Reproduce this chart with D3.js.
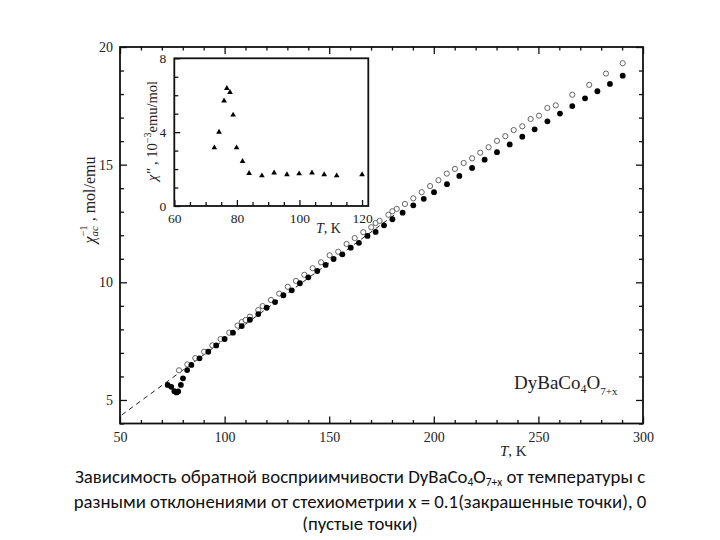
<!DOCTYPE html>
<html><head><meta charset="utf-8">
<script src="https://cdn.jsdelivr.net/npm/d3@7"></script>
<style>
html,body{margin:0;padding:0;background:#fff;}
svg{display:block;}
</style></head>
<body>
<svg id="chart" width="720" height="540"></svg>
<script>
// ---- data ----
const tFilled = [72.8,74.5,76.0,77.0,77.8,79.1,80.1,82.1,84.1,88.0,92.2,96.0,100.0,104.0,108.2,112.1,116.1,120.1,124.1,128.1,132.1,136.0,140.0,144.3,148.3,152.1,156.3,160.3,164.2,168.3,172.2,176.2,180.2,185.1,190.2,195.2,200.1,206.3,212.2,218.3,224.3,230.2,236.3,242.3,248.2,254.3,260.3,266.2,272.3,278.2,284.2,290.3];
const chiFilled = [5.64,5.56,5.37,5.32,5.36,5.64,5.92,6.27,6.49,6.77,7.05,7.32,7.59,7.86,8.14,8.41,8.65,8.92,9.16,9.45,9.66,9.96,10.21,10.48,10.74,10.99,11.19,11.47,11.68,11.97,12.14,12.42,12.68,12.96,13.27,13.55,13.83,14.17,14.52,14.86,15.21,15.53,15.86,16.19,16.50,16.84,17.17,17.49,17.82,18.12,18.43,18.78];
const tOpen = [78.2,82.2,86.0,90.2,94.1,98.1,102.2,106.2,108.2,110.1,112.1,116.1,118.2,122.2,126.1,130.2,134.1,138.1,142.1,146.1,150.2,154.3,158.3,162.2,166.3,170.1,172.2,174.1,178.3,180.2,182.3,186.2,190.2,194.2,198.2,202.2,206.2,210.1,214.3,218.3,222.2,226.2,230.2,234.2,238.2,242.3,246.3,250.3,254.3,258.3,266.2,274.3,282.3,290.3];
const chiOpen = [6.26,6.51,6.78,7.05,7.32,7.59,7.86,8.16,8.31,8.40,8.54,8.82,8.99,9.25,9.52,9.81,10.06,10.32,10.60,10.85,11.15,11.30,11.63,11.88,12.13,12.34,12.52,12.61,12.87,13.02,13.12,13.33,13.57,13.83,14.09,14.34,14.62,14.82,15.07,15.27,15.51,15.74,16.01,16.21,16.47,16.63,16.94,17.08,17.41,17.52,17.97,18.39,18.87,19.31];
const fitT = [50.8, 182];
const fitChi = [4.36, 12.92];
const tInset = [72.8,74.3,75.9,76.8,77.8,78.8,79.9,81.8,83.9,88.0,91.9,96.0,99.9,104.0,107.9,111.9,120.0];
const chi2Inset = [3.16,4.0,5.70,6.37,6.16,4.93,3.16,2.42,1.77,1.64,1.80,1.70,1.75,1.80,1.70,1.64,1.70];
const xTicksMain = [50,100,150,200,250,300];
const yTicksMain = [5,10,15,20];
const xTicksInset = [60,80,100,120];
const yTicksInset = [0,4,8];
const captionLines = ["Зависимость обратной восприимчивости ", "разными отклонениями от стехиометрии x = 0.1(закрашенные точки), 0", "(пустые точки)"];

// ---- drawing ----
const svg = d3.select("#chart");
const serif = "'Liberation Serif','Times New Roman',serif";

const x = d3.scaleLinear().domain([50,300]).range([120,643]);
const y = d3.scaleLinear().domain([4,20]).range([423.5,47]);

const g = svg.append("g");
function styleAxis(sel, fs){
  sel.select(".domain").remove();
  sel.selectAll("line").attr("stroke","#111").attr("stroke-width",1.3);
  sel.selectAll("text").attr("font-family",serif).attr("font-size",fs).attr("fill","#222");
}
// minor ticks
const xMinor = d3.range(50,301,10).filter(v=>v%50!==0);
const yMinor = d3.range(4,20.01,1).filter(v=>v%5!==0);
g.append("g").attr("transform","translate(0,423.5)").call(d3.axisBottom(x).tickValues(xMinor).tickSize(-3.5).tickFormat("")).call(s=>styleAxis(s,14));
g.append("g").attr("transform","translate(0,47)").call(d3.axisTop(x).tickValues(xMinor).tickSize(-3.5).tickFormat("")).call(s=>styleAxis(s,14));
g.append("g").attr("transform","translate(120,0)").call(d3.axisLeft(y).tickValues(yMinor).tickSize(-4).tickFormat("")).call(s=>styleAxis(s,14));
g.append("g").attr("transform","translate(643,0)").call(d3.axisRight(y).tickValues(yMinor).tickSize(-4).tickFormat("")).call(s=>styleAxis(s,14));
// major ticks
g.append("g").attr("transform","translate(0,423.5)").call(d3.axisBottom(x).tickValues(xTicksMain).tickSize(-7).tickPadding(9).tickFormat(d3.format("d"))).call(s=>styleAxis(s,14));
g.append("g").attr("transform","translate(0,47)").call(d3.axisTop(x).tickValues(xTicksMain).tickSize(-7).tickFormat("")).call(s=>styleAxis(s,14));
g.append("g").attr("transform","translate(120,0)").call(d3.axisLeft(y).tickValues(yTicksMain).tickSize(-7).tickPadding(7).tickFormat(d3.format("d"))).call(s=>styleAxis(s,14));
g.append("g").attr("transform","translate(643,0)").call(d3.axisRight(y).tickValues(yTicksMain).tickSize(-7).tickFormat("")).call(s=>styleAxis(s,14));

// frame
g.append("rect").attr("x",120).attr("y",47).attr("width",523).attr("height",376.5)
 .attr("fill","none").attr("stroke","#111").attr("stroke-width",1.8);

// dashed fit line
g.append("path").datum(fitT.map((t,i)=>[t,fitChi[i]]))
 .attr("d",d3.line().x(d=>x(d[0])).y(d=>y(d[1])))
 .attr("fill","none").attr("stroke","#222").attr("stroke-width",1).attr("stroke-dasharray","5,4");

// open circles
g.append("g").selectAll("circle").data(tOpen.map((t,i)=>[t,chiOpen[i]])).join("circle")
 .attr("cx",d=>x(d[0])).attr("cy",d=>y(d[1])).attr("r",2.6)
 .attr("fill","#fff").attr("stroke","#555").attr("stroke-width",0.9);
// filled circles
g.append("g").selectAll("circle").data(tFilled.map((t,i)=>[t,chiFilled[i]])).join("circle")
 .attr("cx",d=>x(d[0])).attr("cy",d=>y(d[1])).attr("r",2.9)
 .attr("fill","#000");

// axis titles
const xt = g.append("text").attr("x",500).attr("y",456).attr("font-family",serif).attr("font-size",15).attr("fill","#222");
xt.append("tspan").attr("font-style","italic").text("T");
xt.append("tspan").text(", K");

const yt = g.append("text").attr("transform","translate(95,200) rotate(-90)").attr("text-anchor","middle")
 .attr("font-family",serif).attr("font-size",16).attr("fill","#222");
yt.append("tspan").attr("font-style","italic").text("χ");
yt.append("tspan").attr("font-style","italic").attr("font-size",11).attr("dy",3).text("ac");
yt.append("tspan").attr("font-size",11).attr("dy",-11).attr("dx",-11).text("−1");
yt.append("tspan").attr("dy",8).text(" , mol/emu");

// compound label
const cl = g.append("text").attr("x",514).attr("y",389).attr("font-family",serif).attr("font-size",19).attr("fill","#222");
cl.append("tspan").text("DyBaCo");
cl.append("tspan").attr("font-size",12).attr("dy",4).text("4");
cl.append("tspan").attr("dy",-4).text("O");
cl.append("tspan").attr("font-size",11).attr("dy",6).text("7+x");

// ---- inset ----
const xi = d3.scaleLinear().domain([60,122]).range([174.3,368.3]);
const yi = d3.scaleLinear().domain([0,8]).range([206,58.3]);
const gi = svg.append("g");
gi.append("rect").attr("x",174.3).attr("y",58.3).attr("width",194).attr("height",147.7).attr("fill","#fff");
const xiMinor = d3.range(60,121,5).filter(v=>v%20!==0);
const yiMinor = d3.range(0,8.01,1).filter(v=>v%4!==0);
gi.append("g").attr("transform","translate(0,206)").call(d3.axisBottom(xi).tickValues(xiMinor).tickSize(-4).tickFormat("")).call(s=>styleAxis(s,13.5));
gi.append("g").attr("transform","translate(174.3,0)").call(d3.axisLeft(yi).tickValues(yiMinor).tickSize(-4).tickFormat("")).call(s=>styleAxis(s,13.5));
gi.append("g").attr("transform","translate(0,206)").call(d3.axisBottom(xi).tickValues(xTicksInset).tickSize(-6).tickPadding(7).tickFormat(d3.format("d"))).call(s=>styleAxis(s,13.5));
gi.append("g").attr("transform","translate(174.3,0)").call(d3.axisLeft(yi).tickValues(yTicksInset).tickSize(-6).tickPadding(8).tickFormat(d3.format("d"))).call(s=>styleAxis(s,13.5));
gi.append("rect").attr("x",174.3).attr("y",58.3).attr("width",194).attr("height",147.7)
 .attr("fill","none").attr("stroke","#111").attr("stroke-width",1.8);

const tri = d3.symbol().type(d3.symbolTriangle).size(14);
gi.append("g").selectAll("path").data(tInset.map((t,i)=>[t,chi2Inset[i]])).join("path")
 .attr("d",tri).attr("transform",d=>`translate(${xi(d[0])},${yi(d[1])})`).attr("fill","#000");

const ixt = gi.append("text").attr("x",316).attr("y",233).attr("font-family",serif).attr("font-size",14).attr("fill","#222");
ixt.append("tspan").attr("font-style","italic").text("T");
ixt.append("tspan").text(", K");

const iyt = gi.append("text").attr("transform","translate(157,131) rotate(-90)").attr("text-anchor","middle")
 .attr("font-family",serif).attr("font-size",14.5).attr("fill","#222");
iyt.append("tspan").attr("font-style","italic").text("χ\"");
iyt.append("tspan").text(" , 10");
iyt.append("tspan").attr("font-size",10).attr("dy",-6).text("−3");
iyt.append("tspan").attr("dy",6).text("emu/mol");

// ---- caption ----
const capFont = "Carlito, Calibri, Lato, 'Liberation Sans', sans-serif";
const capSize = 18.8;
const c1 = svg.append("text").attr("x",360).attr("y",483).attr("text-anchor","middle")
 .attr("font-family",capFont).attr("font-size",capSize).attr("fill","#111");
c1.append("tspan").text(captionLines[0]);
c1.append("tspan").text("DyBaCo");
c1.append("tspan").attr("font-size",11.5).attr("dy",3).text("4");
c1.append("tspan").attr("dy",-3).text("O");
c1.append("tspan").attr("font-size",11.5).attr("dy",3).text("7+x");
c1.append("tspan").attr("dy",-3).text(" от температуры с");
svg.append("text").attr("x",360).attr("y",508).attr("text-anchor","middle")
 .attr("font-family",capFont).attr("font-size",capSize).attr("fill","#111").text(captionLines[1]);
svg.append("text").attr("x",360).attr("y",530).attr("text-anchor","middle")
 .attr("font-family",capFont).attr("font-size",capSize).attr("fill","#111").text(captionLines[2]);
</script>
</body></html>
